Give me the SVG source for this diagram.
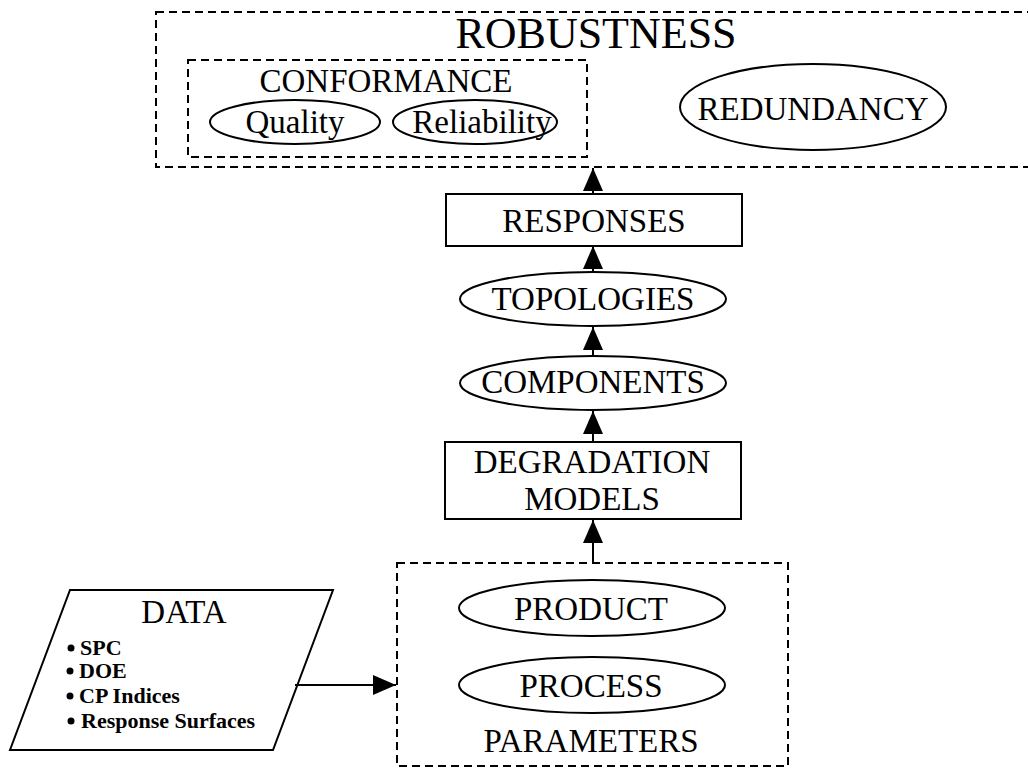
<svg xmlns="http://www.w3.org/2000/svg" width="1028" height="769" viewBox="0 0 1028 769">
  <style>
    .solid { fill: #fff; stroke: #000; stroke-width: 2; }
    .dash { fill: none; stroke: #000; stroke-width: 2; stroke-dasharray: 8 5; }
    .lbl { font-family: "Liberation Serif", "Times New Roman", serif; font-size: 33px; fill: #000; text-anchor: middle; }
    .big { font-size: 44px; }
    .item { font-family: "Liberation Serif", "Times New Roman", serif; font-size: 22px; font-weight: bold; fill: #000; }
    .edge { stroke: #000; stroke-width: 2; fill: none; marker-end: url(#arrow); }
  </style>
  <defs>
    <marker id="arrow" markerUnits="userSpaceOnUse" markerWidth="24" markerHeight="22" viewBox="0 0 24 22" refX="23" refY="11" orient="auto">
      <path d="M0,1 L23,11 L0,21 Z" fill="#000"/>
    </marker>
  </defs>

  <rect width="1028" height="769" fill="#fff"/>

  <!-- top-level goal: robustness -->
  <g id="robustness">
    <rect class="dash" x="156" y="12" width="880" height="155"/>
    <text class="lbl big" x="596" y="48">ROBUSTNESS</text>
  </g>

  <g id="conformance">
    <rect class="dash" x="188" y="60" width="399" height="97"/>
    <text class="lbl" x="386" y="92">CONFORMANCE</text>
  </g>

  <g id="quality">
    <ellipse class="solid" cx="295" cy="122" rx="85" ry="22"/>
    <text class="lbl" x="295" y="133" font-size="32">Quality</text>
  </g>

  <g id="reliability">
    <ellipse class="solid" cx="475" cy="122" rx="82" ry="22"/>
    <text class="lbl" x="482" y="133" font-size="32">Reliability</text>
  </g>

  <g id="redundancy">
    <ellipse class="solid" cx="813" cy="107" rx="133" ry="43"/>
    <text class="lbl" x="813" y="120" font-size="34">REDUNDANCY</text>
  </g>

  <!-- central chain -->
  <g id="responses">
    <rect class="solid" x="446" y="194" width="296" height="52"/>
    <text class="lbl" x="594" y="232">RESPONSES</text>
  </g>

  <g id="topologies">
    <ellipse class="solid" cx="593" cy="299" rx="133" ry="27"/>
    <text class="lbl" x="593" y="310">TOPOLOGIES</text>
  </g>

  <g id="components">
    <ellipse class="solid" cx="593" cy="383" rx="133" ry="27"/>
    <text class="lbl" x="593" y="393">COMPONENTS</text>
  </g>

  <g id="degradation-models">
    <rect class="solid" x="445" y="442" width="296" height="77"/>
    <text class="lbl" x="592" y="473">DEGRADATION</text>
    <text class="lbl" x="592" y="510">MODELS</text>
  </g>

  <!-- parameters group -->
  <g id="parameters">
    <rect class="dash" x="397" y="563" width="391" height="203"/>
    <text class="lbl" x="591" y="752">PARAMETERS</text>
  </g>

  <g id="product">
    <ellipse class="solid" cx="592" cy="608" rx="133" ry="28"/>
    <text class="lbl" x="591" y="620">PRODUCT</text>
  </g>

  <g id="process">
    <ellipse class="solid" cx="592" cy="685" rx="133" ry="28"/>
    <text class="lbl" x="591" y="697">PROCESS</text>
  </g>

  <!-- data sources -->
  <g id="data">
    <polygon class="solid" points="70,590 333,590 273,750 10,750"/>
    <text class="lbl" x="184" y="623">DATA</text>
    <circle cx="71" cy="648" r="3.5"/>
    <text class="item" x="80" y="655">SPC</text>
    <circle cx="70" cy="671" r="3.5"/>
    <text class="item" x="79" y="678">DOE</text>
    <circle cx="70" cy="696" r="3.5"/>
    <text class="item" x="79" y="703">CP Indices</text>
    <circle cx="71" cy="721" r="3.5"/>
    <text class="item" x="81" y="728">Response Surfaces</text>
  </g>

  <!-- connectors -->
  <g id="connectors">
    <line class="edge" x1="593" y1="194" x2="593" y2="168"/>
    <line class="edge" x1="593" y1="272" x2="593" y2="246"/>
    <line class="edge" x1="593" y1="356" x2="593" y2="327"/>
    <line class="edge" x1="593" y1="442" x2="593" y2="411"/>
    <line class="edge" x1="593" y1="563" x2="593" y2="520"/>
    <line class="edge" x1="295" y1="685" x2="396" y2="685"/>
  </g>
</svg>
